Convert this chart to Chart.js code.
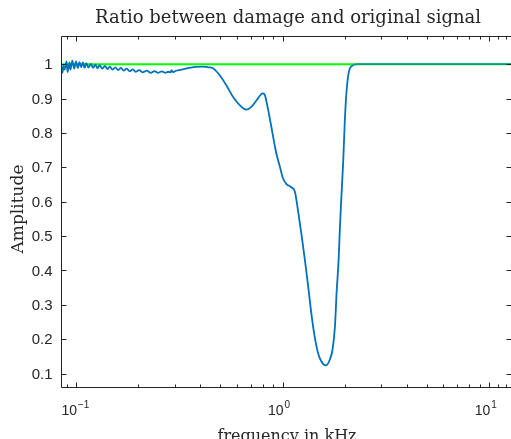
<!DOCTYPE html>
<html>
<head>
<meta charset="utf-8">
<script src="https://cdn.jsdelivr.net/npm/chart.js@4"></script>
<style>
  html, body { margin: 0; padding: 0; background: #fff; overflow: hidden; }
</style>
</head>
<body>
<canvas id="ratio" width="511" height="439"></canvas>
<script>
// ===== Ratio between damage and original signal =====

// frequency (kHz) and amplitude ratio
const freqKHz = [
  0.0846, 0.086, 0.087, 0.088, 0.090, 0.091, 0.093, 0.094, 0.096, 0.098,
  0.100, 0.102, 0.104, 0.106, 0.108, 0.110, 0.112, 0.115, 0.118, 0.121,
  0.124, 0.127, 0.130, 0.134, 0.138, 0.142, 0.146, 0.150, 0.155, 0.160,
  0.165, 0.170, 0.176, 0.182, 0.188, 0.195, 0.202, 0.210, 0.220, 0.230,
  0.240, 0.250, 0.260, 0.270, 0.280, 0.287, 0.290, 0.295, 0.300, 0.317,
  0.340, 0.360, 0.380, 0.411, 0.440, 0.460, 0.496, 0.534, 0.575, 0.620,
  0.667, 0.706, 0.748, 0.789, 0.803, 0.821, 0.839, 0.861, 0.882, 0.908,
  0.932, 0.970, 1.004, 1.042, 1.102, 1.147, 1.186, 1.232, 1.282, 1.330,
  1.377, 1.429, 1.484, 1.539, 1.620, 1.694, 1.745, 1.792, 1.825, 1.867,
  1.895, 1.930, 1.966, 1.995, 2.025, 2.064, 2.117, 2.198, 2.300, 3.0,
  5.0, 8.0, 12.75
];
const damageRatio = [
  1.002, 0.975, 0.996, 0.984, 1.008, 0.977, 1.005, 0.984, 1.010, 0.987,
  1.008, 0.989, 1.006, 0.991, 1.005, 0.989, 1.003, 0.990, 1.001, 0.989,
  0.999, 0.988, 0.997, 0.987, 0.995, 0.986, 0.993, 0.984, 0.991, 0.983,
  0.989, 0.981, 0.987, 0.979, 0.985, 0.978, 0.983, 0.976, 0.981, 0.975,
  0.980, 0.975, 0.979, 0.975, 0.978, 0.976, 0.983, 0.977, 0.979, 0.983,
  0.987, 0.990, 0.992, 0.993, 0.991, 0.988, 0.968, 0.939, 0.905, 0.881,
  0.868, 0.876, 0.895, 0.913, 0.915, 0.910, 0.886, 0.852, 0.818, 0.776,
  0.741, 0.702, 0.668, 0.652, 0.642, 0.629, 0.576, 0.508, 0.431, 0.353,
  0.276, 0.208, 0.160, 0.136, 0.124, 0.141, 0.170, 0.237, 0.334, 0.431,
  0.528, 0.625, 0.721, 0.818, 0.895, 0.954, 0.988, 0.997, 1.000, 1.000,
  1.000, 1.000, 1.000
];

// original signal reference (ratio = 1)
const refFreq = [0.0846, 12.75];
const refRatio = [1, 1];

// axis ticks
const yTicks = [0.1, 0.2, 0.3, 0.4, 0.5, 0.6, 0.7, 0.8, 0.9, 1];
const yTickLabels = ["0.1", "0.2", "0.3", "0.4", "0.5", "0.6", "0.7", "0.8", "0.9", "1"];
const xMajor = [0.1, 1, 10];
const xExponents = ["-1", "0", "1"];
const xMinor = [0.09, 0.2, 0.3, 0.4, 0.5, 0.6, 0.7, 0.8, 0.9,
                2, 3, 4, 5, 6, 7, 8, 9, 11, 12];

const axisColor = "#262626";
const serif = "'DejaVu Serif', serif";
const sans = "'Liberation Sans', Arial, sans-serif";

// frame, inward ticks, labels and titles drawn in MATLAB style
// (the right edge of the axes falls just outside the picture)
const matlabAxes = {
  id: "matlabAxes",
  afterDatasetsDraw(chart) {
    const { ctx, chartArea: a, scales: { x, y } } = chart;
    const L = Math.round(a.left) + 0.5, R = Math.round(a.right) + 0.5;
    const T = Math.round(a.top) + 0.5, B = Math.round(a.bottom) - 0.5;
    ctx.save();
    ctx.strokeStyle = axisColor;
    ctx.lineWidth = 1;
    ctx.beginPath();
    ctx.moveTo(R, T); ctx.lineTo(L, T); ctx.lineTo(L, B); ctx.lineTo(R, B);

    yTicks.forEach(v => {
      const py = Math.round(y.getPixelForValue(v)) + 0.5;
      ctx.moveTo(L, py); ctx.lineTo(L + 5, py);
      ctx.moveTo(R, py); ctx.lineTo(R - 5, py);
    });
    xMajor.forEach(v => {
      const px = Math.round(x.getPixelForValue(v)) + 0.5;
      ctx.moveTo(px, B); ctx.lineTo(px, B - 5);
      ctx.moveTo(px, T); ctx.lineTo(px, T + 5);
    });
    xMinor.forEach(v => {
      const px = Math.round(x.getPixelForValue(v)) + 0.5;
      if (px > R) return;
      ctx.moveTo(px, B); ctx.lineTo(px, B - 3);
      ctx.moveTo(px, T); ctx.lineTo(px, T + 3);
    });
    ctx.stroke();

    // y tick labels
    ctx.fillStyle = axisColor;
    ctx.font = "15px " + sans;
    ctx.textAlign = "right";
    ctx.textBaseline = "middle";
    yTicks.forEach((v, i) => {
      ctx.fillText(yTickLabels[i], L - 9, y.getPixelForValue(v) + 1);
    });

    // x tick labels 10^n
    ctx.textBaseline = "alphabetic";
    xMajor.forEach((v, i) => {
      const px = x.getPixelForValue(v);
      ctx.font = "14px " + sans;
      ctx.textAlign = "right";
      ctx.fillText("10", px + 1, 415);
      ctx.font = "10px " + sans;
      ctx.textAlign = "left";
      ctx.fillText(xExponents[i].replace("-", "\u2212"), px + 2, 408);
    });

    // title
    ctx.font = "18px " + serif;
    ctx.textAlign = "center";
    ctx.fillText("Ratio between damage and original signal", 288, 23);

    // x axis title (runs off the bottom edge)
    ctx.font = "16px " + serif;
    ctx.fillText("frequency in kHz", 287, 441);

    // y axis title
    ctx.font = "17px " + serif;
    ctx.translate(23, 209);
    ctx.rotate(-Math.PI / 2);
    ctx.fillText("Amplitude", 0, 0);
    ctx.restore();
  }
};

const ctx = document.getElementById("ratio").getContext("2d");
new Chart(ctx, {
  type: "line",
  data: {
    datasets: [
      {
        label: "damage / original",
        data: freqKHz.map((f, i) => ({ x: f, y: damageRatio[i] })),
        borderColor: "#0072BD",
        borderWidth: 1.8,
        pointRadius: 0,
        cubicInterpolationMode: "monotone",
        segment: {
          borderColor: c => c.p0.parsed.x >= 2.19 ? "#0a9a86" : "#0072BD"
        },
        order: 1
      },
      {
        label: "original",
        data: refFreq.map((f, i) => ({ x: f, y: refRatio[i] })),
        borderColor: "#00FF00",
        borderWidth: 2,
        pointRadius: 0,
        order: 2
      }
    ]
  },
  options: {
    responsive: false,
    animation: false,
    layout: { padding: { left: 61, right: 0, top: 36, bottom: 51 } },
    scales: {
      x: { type: "logarithmic", min: 0.0846, max: 12.75, display: false },
      y: { type: "linear", min: 0.058, max: 1.082, display: false }
    },
    plugins: {
      legend: { display: false },
      tooltip: { enabled: false }
    }
  },
  plugins: [matlabAxes]
});
</script>
</body>
</html>
